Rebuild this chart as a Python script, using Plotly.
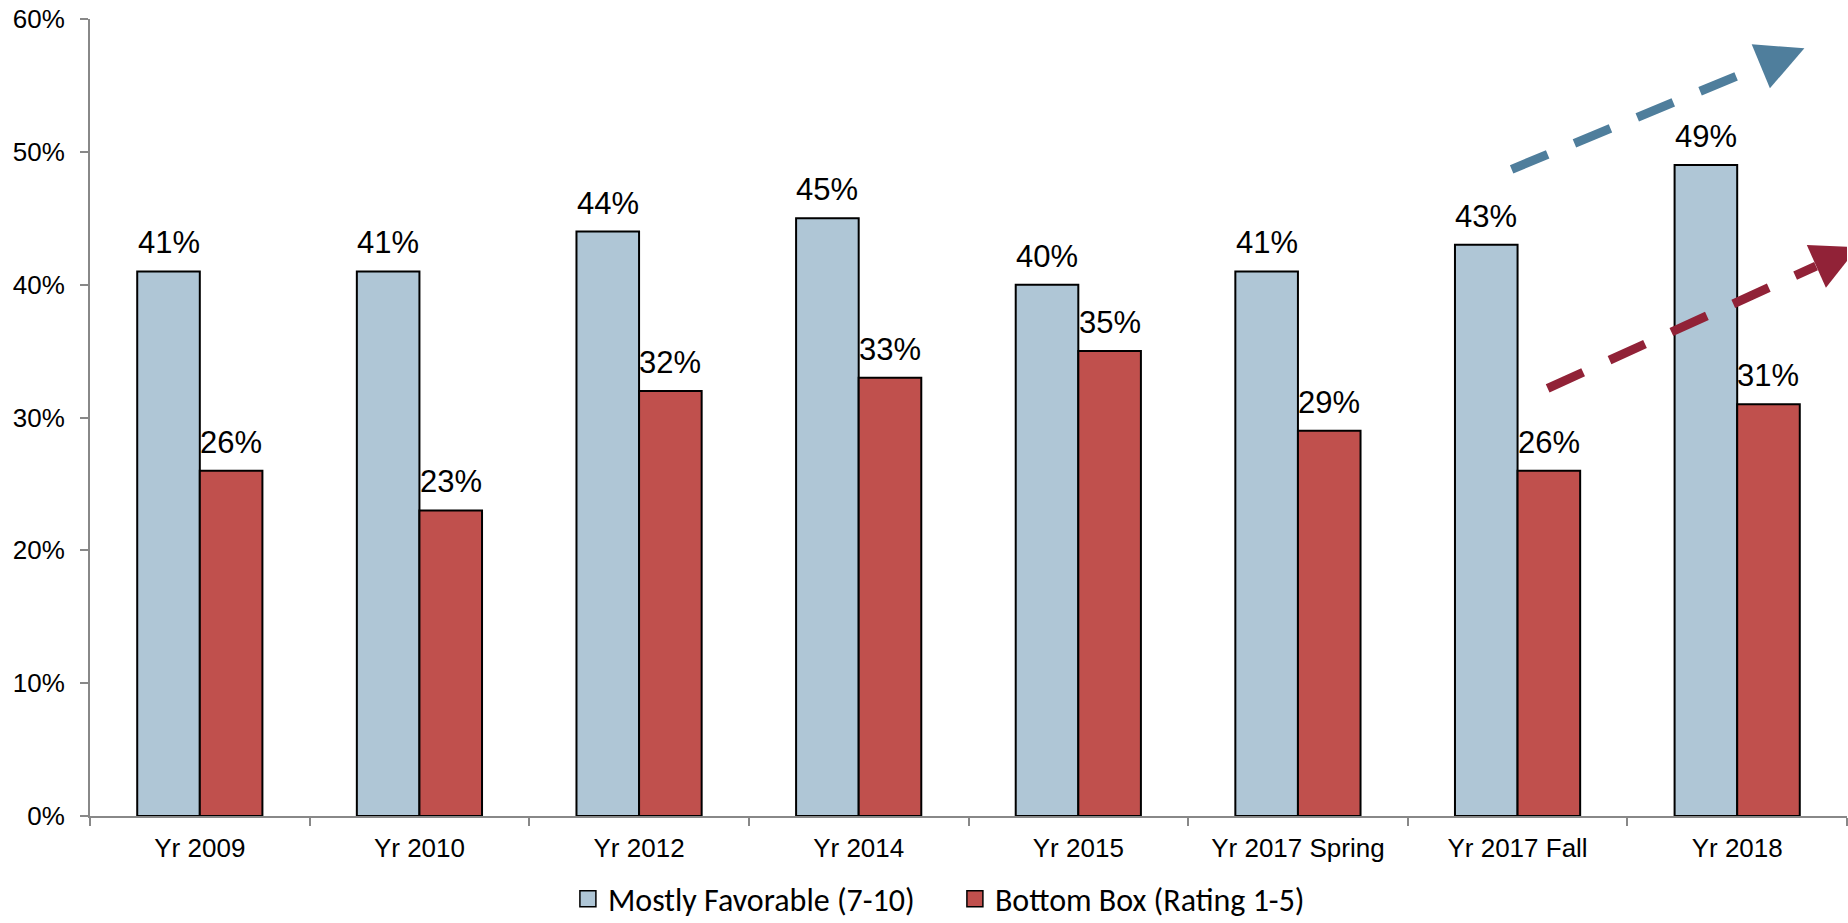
import plotly.graph_objects as go

# ---- data ----
categories = ["Yr 2009", "Yr 2010", "Yr 2012", "Yr 2014", "Yr 2015",
              "Yr 2017 Spring", "Yr 2017 Fall", "Yr 2018"]
favorable = [41, 41, 44, 45, 40, 41, 43, 49]
bottom_box = [26, 23, 32, 33, 35, 29, 26, 31]
series_names = ["Mostly Favorable (7-10)", "Bottom Box (Rating 1-5)"]
y_ticks = [0, 10, 20, 30, 40, 50, 60]

# trend arrows (x in category index units, y in %)
blue_line_x = [5.973, 7.108]
blue_line_y = [48.68, 56.46]
blue_head_x = [7.066, 7.306, 7.149]
blue_head_y = [58.10, 57.80, 54.78]
red_line_x = [6.137, 7.359]
red_line_y = [32.19, 41.40]
red_head_x = [7.317, 7.550, 7.404]
red_head_y = [42.98, 42.83, 39.77]

# ---- styles ----
W, H = 1848, 923
ML, MR, MT, MB = 90, 1, 19, 107
BARGAP = 0.43
BLUE = "#AFC6D6"
RED = "#C0504D"
BLUE_ARROW = "#4F7E9C"
RED_ARROW = "#912237"
AXIS_GRAY = "#888888"
FONT = "Liberation Sans, Arial, sans-serif"
LEGEND_FONT = "Carlito, Liberation Sans, Arial, sans-serif"

n = len(categories)
xs = list(range(n))
cat_px = (W - ML - MR) / n
offset_px = cat_px * (1 - BARGAP) / 4

fig = go.Figure()
for vals, color, name in [(favorable, BLUE, series_names[0]), (bottom_box, RED, series_names[1])]:
    fig.add_trace(go.Bar(
        x=xs, y=vals, name=name, showlegend=False,
        marker=dict(color=color, line=dict(color="black", width=2)),
        hoverinfo="y",
    ))
# legend proxies
for color, name in [(BLUE, series_names[0]), (RED, series_names[1])]:
    fig.add_trace(go.Scatter(
        x=[None], y=[None], mode="markers", name=name,
        marker=dict(symbol="square", size=16, color=color,
                    line=dict(color="black", width=1.5)),
    ))

annotations = []
for vals, sign in [(favorable, -1), (bottom_box, 1)]:
    for x, v in zip(xs, vals):
        annotations.append(dict(
            x=x, y=v, xref="x", yref="y", text=f"{v}%", showarrow=False,
            xshift=sign * offset_px, yshift=9, yanchor="bottom", xanchor="center",
            font=dict(family=FONT, size=31, color="black"),
        ))

shapes = []
for lx, ly, hx, hy, col in [(blue_line_x, blue_line_y, blue_head_x, blue_head_y, BLUE_ARROW),
                            (red_line_x, red_line_y, red_head_x, red_head_y, RED_ARROW)]:
    shapes.append(dict(type="line", xref="x", yref="y", x0=lx[0], y0=ly[0], x1=lx[1], y1=ly[1],
                       line=dict(color=col, width=9, dash="39px,29px")))
    path = "M{},{} L{},{} L{},{} Z".format(hx[0], hy[0], hx[1], hy[1], hx[2], hy[2])
    shapes.append(dict(type="path", xref="x", yref="y", path=path,
                       fillcolor=col, line=dict(color=col, width=0)))

fig.update_layout(
    width=W, height=H,
    margin=dict(l=ML, r=MR, t=MT, b=MB),
    paper_bgcolor="white", plot_bgcolor="white",
    barmode="group", bargap=BARGAP, bargroupgap=0,
    font=dict(family=FONT, size=26, color="black"),
    annotations=annotations, shapes=shapes,
    legend=dict(orientation="h", x=0.272, xanchor="left",
                yref="container", y=1 - 899 / H, yanchor="middle",
                font=dict(family=LEGEND_FONT, size=32, color="black"),
                entrywidth=342, entrywidthmode="pixels", bgcolor="rgba(0,0,0,0)"),
    xaxis=dict(
        range=[-0.5, n - 0.5], tickmode="array", tickvals=xs, ticktext=categories,
        ticks="", showline=True, linecolor=AXIS_GRAY, linewidth=2,
        showgrid=False, zeroline=False, ticklabelstandoff=8,
        tickfont=dict(family=FONT, size=26, color="black"),
        minor=dict(tickmode="array", tickvals=[i - 0.5 for i in range(n + 1)],
                   ticks="outside", ticklen=8, tickwidth=2, tickcolor=AXIS_GRAY, showgrid=False),
    ),
    yaxis=dict(
        range=[0, 60], tickmode="array", tickvals=y_ticks,
        ticktext=[f"{t}%" for t in y_ticks],
        ticks="outside", ticklen=8, tickwidth=2, tickcolor=AXIS_GRAY,
        showline=True, linecolor=AXIS_GRAY, linewidth=2,
        showgrid=False, zeroline=False, ticklabelstandoff=10,
        tickfont=dict(family=FONT, size=26, color="black"),
    ),
)

fig.write_html("out.html", config={"displayModeBar": False},
               post_script="document.body.style.margin='0px';document.body.style.overflow='hidden';")
